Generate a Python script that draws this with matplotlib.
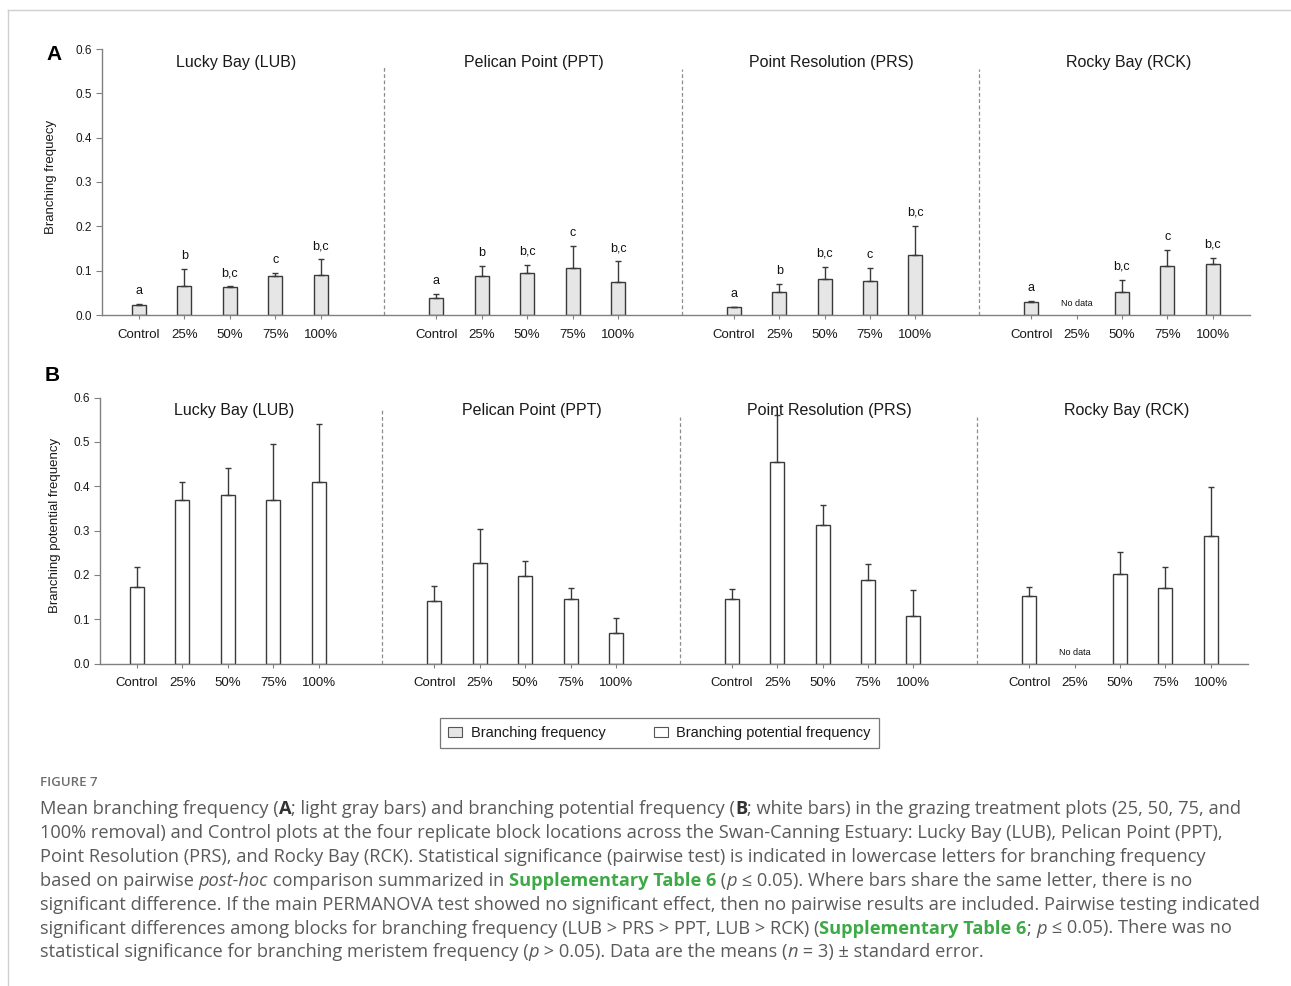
import numpy as np
import matplotlib
matplotlib.use("Agg")
import matplotlib.pyplot as plt
from matplotlib.lines import Line2D
from matplotlib.patches import Patch

# ---------------- data ----------------
sites = ["Lucky Bay (LUB)", "Pelican Point (PPT)", "Point Resolution (PRS)", "Rocky Bay (RCK)"]
treatments = ["Control", "25%", "50%", "75%", "100%"]

branch_mean = [
    [0.022, 0.066, 0.064, 0.087, 0.091],
    [0.038, 0.088, 0.095, 0.107, 0.075],
    [0.018, 0.053, 0.082, 0.077, 0.136],
    [0.030, np.nan, 0.053, 0.110, 0.116],
]
branch_se = [
    [0.003, 0.038, 0.001, 0.008, 0.035],
    [0.010, 0.022, 0.018, 0.048, 0.046],
    [0.001, 0.018, 0.027, 0.030, 0.065],
    [0.0015, np.nan, 0.027, 0.036, 0.013],
]
branch_letters = [
    ["a", "b", "b,c", "c", "b,c"],
    ["a", "b", "b,c", "c", "b,c"],
    ["a", "b", "b,c", "c", "b,c"],
    ["a", "", "b,c", "c", "b,c"],
]
potential_mean = [
    [0.172, 0.370, 0.380, 0.369, 0.410],
    [0.142, 0.226, 0.197, 0.146, 0.068],
    [0.145, 0.454, 0.312, 0.188, 0.108],
    [0.152, np.nan, 0.203, 0.170, 0.288],
]
potential_se = [
    [0.045, 0.040, 0.062, 0.126, 0.130],
    [0.032, 0.077, 0.035, 0.025, 0.035],
    [0.023, 0.107, 0.045, 0.036, 0.058],
    [0.021, np.nan, 0.048, 0.048, 0.110],
]
yticks = [0.0, 0.1, 0.2, 0.3, 0.4, 0.5, 0.6]

W, H = 1291, 986
plt.rcParams["font.family"] = ["Liberation Sans", "DejaVu Sans"]
fig = plt.figure(figsize=(W / 100, H / 100), dpi=100)
fig.patch.set_facecolor("white")

GSTEP = 6.55
EDGE = "#3a3a3a"
AXC = "#808080"


def fx(px):
    return px / W


def fy(py):
    return 1 - py / H


def panel(rect, means, ses, face, ylabel, ylabel_x, letters=None, sep_tops=(0.565, 0.555, 0.555)):
    ax = fig.add_axes(rect)
    ax.set_xlim(-0.815, 24.47)
    ax.set_ylim(0, 0.6)
    for s in ["top", "right"]:
        ax.spines[s].set_visible(False)
    for s in ["left", "bottom"]:
        ax.spines[s].set_color(AXC)
        ax.spines[s].set_linewidth(1.0)
    xs_all, lab_all = [], []
    for g in range(len(sites)):
        xs = g * GSTEP + np.arange(len(treatments))
        m = np.array(means[g], dtype=float)
        e = np.array(ses[g], dtype=float)
        ok = ~np.isnan(m)
        ax.bar(xs[ok], m[ok], width=0.31, color=face, edgecolor=EDGE, linewidth=1.0, zorder=2)
        ax.errorbar(xs[ok], m[ok], yerr=[np.zeros(ok.sum()), e[ok]], fmt="none",
                    ecolor=EDGE, elinewidth=1.0, capsize=2, capthick=1.0, zorder=3)
        for i in range(len(treatments)):
            if not ok[i]:
                ax.annotate("No data", (xs[i], 0), xytext=(0, 8), textcoords="offset points",
                            ha="center", va="center", fontsize=6.5, color="#111111")
            elif letters is not None and letters[g][i]:
                ax.annotate(letters[g][i], (xs[i], m[i] + e[i]), xytext=(0, 5),
                            textcoords="offset points", ha="center", va="bottom",
                            fontsize=9, color="#111111")
        ax.text(g * GSTEP + 2.15, 0.57, sites[g], ha="center", va="center",
                fontsize=11.5, color="#1a1a1a")
        if g < len(sites) - 1:
            sx = g * GSTEP + 5.4
            ax.plot([sx, sx], [0, sep_tops[g]], ls=(0, (3, 2)), color="#8c8c8c", lw=0.9,
                    zorder=1, clip_on=False)
        xs_all.extend(xs)
        lab_all.extend(treatments)
    ax.set_xticks(xs_all)
    ax.set_xticklabels(lab_all, fontsize=9.5, color="#1a1a1a")
    ax.tick_params(axis="x", length=3, width=0.8, color=AXC, pad=7)
    ax.set_yticks(yticks)
    ax.set_yticklabels([f"{v:.1f}" for v in yticks], fontsize=8.5, color="#1a1a1a")
    ax.tick_params(axis="y", length=4, width=0.8, color=AXC, pad=3)
    ax.set_ylabel(ylabel, fontsize=9.5, color="#1a1a1a")
    ax.yaxis.set_label_coords(ylabel_x, 0.52)
    ax.set_facecolor("none")
    return ax


axA = panel([fx(102), fy(315), fx(1250 - 102), (315 - 49) / H], branch_mean, branch_se,
            "#e6e6e6", "Branching frequecy", -0.039, letters=branch_letters)
axB = panel([fx(100), fy(663.5), fx(1248 - 100), (663.5 - 397.7) / H], potential_mean, potential_se,
            "white", "Branching potential frequency", -0.034, sep_tops=(0.574, 0.556, 0.556))

fig.text(fx(54), fy(55), "A", fontsize=15, fontweight="bold", ha="center", va="center")
fig.text(fx(52), fy(376), "B", fontsize=15, fontweight="bold", ha="center", va="center")

# legend
handles = [Patch(facecolor="#e6e6e6", edgecolor="#555555", linewidth=0.8),
           Patch(facecolor="white", edgecolor="#555555", linewidth=0.8)]
leg = fig.legend(handles, ["Branching frequency", "Branching potential frequency"],
                 loc="center", bbox_to_anchor=(fx(659.5), fy(733)), ncol=2, fontsize=10.5,
                 frameon=True, fancybox=False, edgecolor="#555555", handlelength=0.95,
                 handleheight=0.75, handletextpad=0.6, columnspacing=3.3, borderpad=0.55,
                 borderaxespad=0)
leg.get_frame().set_linewidth(0.9)
for t in leg.get_texts():
    t.set_color("#1a1a1a")

# frame lines of the figure page
fig.add_artist(Line2D([fx(7.5), fx(7.5)], [0, fy(10)], transform=fig.transFigure, color="#cfcfcf", lw=1))
fig.add_artist(Line2D([fx(7.5), 1], [fy(10), fy(10)], transform=fig.transFigure, color="#cfcfcf", lw=1))

# ---------------- caption ----------------
CAP_FAM = ["Open Sans", "DejaVu Sans"]
CAPC = "#5a5a5a"
GREEN = "#3daa47"
renderer = fig.canvas.get_renderer()


def width_px(s, **kw):
    t = fig.text(0, 0, "|" + s + "|", **kw)
    t0 = fig.text(0, 0, "||", **kw)
    w = t.get_window_extent(renderer).width - t0.get_window_extent(renderer).width
    t.remove()
    t0.remove()
    return w


lines = [
    [("Mean branching frequency (", "n"), ("A", "b"), ("; light gray bars) and branching potential frequency (", "n"),
     ("B", "b"), ("; white bars) in the grazing treatment plots (25, 50, 75, and", "n")],
    [("100% removal) and Control plots at the four replicate block locations across the Swan-Canning Estuary: Lucky Bay (LUB), Pelican Point (PPT),", "n")],
    [("Point Resolution (PRS), and Rocky Bay (RCK). Statistical significance (pairwise test) is indicated in lowercase letters for branching frequency", "n")],
    [("based on pairwise ", "n"), ("post-hoc", "i"), (" comparison summarized in ", "n"), ("Supplementary Table 6", "g"),
     (" (", "n"), ("p", "i"), (" \u2264 0.05). Where bars share the same letter, there is no", "n")],
    [("significant difference. If the main PERMANOVA test showed no significant effect, then no pairwise results are included. Pairwise testing indicated", "n")],
    [("significant differences among blocks for branching frequency (LUB > PRS > PPT, LUB > RCK) (", "n"),
     ("Supplementary Table 6", "g"), ("; ", "n"), ("p", "i"), (" \u2264 0.05). There was no", "n")],
    [("statistical significance for branching meristem frequency (", "n"), ("p", "i"), (" > 0.05). Data are the means (", "n"),
     ("n", "i"), (" = 3) \u00b1 standard error.", "n")],
]


def style(kind, size):
    kw = dict(fontsize=size, family=CAP_FAM, color=CAPC)
    if kind == "b":
        kw.update(fontweight="bold", color="#333333")
    elif kind == "i":
        kw.update(style="italic")
    elif kind == "g":
        kw.update(fontweight="bold", color=GREEN)
    return kw


base = 12.0
w5 = sum(width_px(s, **style(k, base)) for s, k in lines[4])
cap_size = base * (1260 - 40) / w5

y0 = 808
for li, segs in enumerate(lines):
    x = 40.0
    yb = y0 + li * 23.9 + 6
    for s, k in segs:
        kw = style(k, cap_size)
        fig.text(fx(x), fy(yb), s, ha="left", va="baseline", **kw)
        x += width_px(s, **kw)

fig.text(fx(40), fy(782), "FIGURE 7", fontsize=9.5, family=CAP_FAM, color="#6e6e6e",
         ha="left", va="center", fontweight="semibold")

fig.savefig("out.png", dpi=100, facecolor="white")
